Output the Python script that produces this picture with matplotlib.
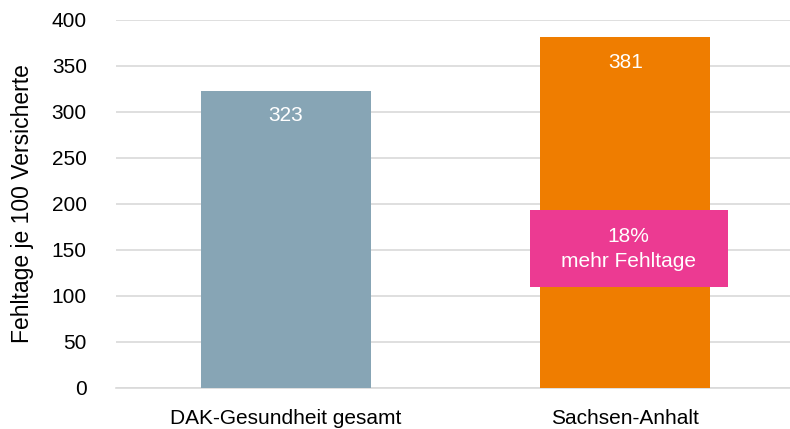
import matplotlib
matplotlib.use("Agg")
import matplotlib.pyplot as plt
from matplotlib.patches import Rectangle

categories = ["DAK-Gesundheit gesamt", "Sachsen-Anhalt"]
values = [323, 381]
bar_colors = ["#87A5B5", "#EF7D00"]
yticks = [0, 50, 100, 150, 200, 250, 300, 350, 400]
note_text = "18%\nmehr Fehltage"

plt.rcParams["font.family"] = ["Liberation Sans Narrow", "Liberation Sans", "DejaVu Sans"]

fig = plt.figure(figsize=(7.9, 4.29), dpi=100)
ax = fig.add_axes([0.1468, 0.0956, 0.8532, 0.8578])

x = range(len(categories))
ax.bar(x, values, width=0.5, color=bar_colors, zorder=3)

for xi, v in zip(x, values):
    ax.text(xi, v - 27, f"{v}", ha="center", va="center", color="white", fontsize=15, zorder=4)

# highlight box on the Sachsen-Anhalt bar
ax.add_patch(Rectangle((0.718, 110), 0.585, 84, facecolor="#EC3A92", edgecolor="none", zorder=5))
ax.text(1.01, 151, note_text, ha="center", va="center", color="white", fontsize=15,
        linespacing=1.4, zorder=6)

ax.set_xlim(-0.5, 1.485)
ax.set_ylim(0, 400)
ax.set_yticks(yticks)
ax.set_xticks(list(x))
ax.set_xticklabels(categories)
ax.tick_params(axis="both", length=0, labelsize=15, colors="black")
ax.tick_params(axis="y", pad=21)
ax.tick_params(axis="x", pad=15)
ax.set_ylabel("Fehltage je 100 Versicherte", fontsize=16.5, labelpad=13)

ax.grid(axis="y", color="#D9D9D9", linewidth=1.2, zorder=0)
for s in ["top", "right", "left"]:
    ax.spines[s].set_visible(False)
ax.spines["bottom"].set_color("#D9D9D9")
ax.spines["bottom"].set_linewidth(1.2)

fig.savefig("out.png", dpi=100)
